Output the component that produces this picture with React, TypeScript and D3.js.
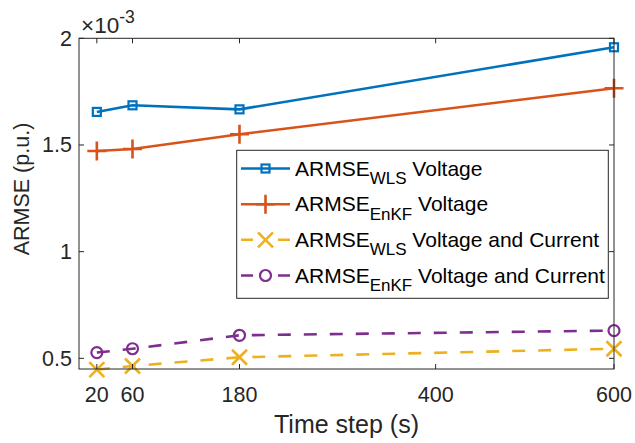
import React from 'react';
import * as d3 from 'd3';

const timeSteps = [20, 60, 180, 600];
const wlsVoltage = [1.655, 1.686, 1.667, 1.958];
const enkfVoltage = [1.472, 1.481, 1.55, 1.766];
const wlsVoltCurr = [0.447, 0.464, 0.505, 0.545];
const enkfVoltCurr = [0.527, 0.545, 0.608, 0.63];
const xTicks = [20, 60, 180, 400, 600];
const yTicks = [0.5, 1, 1.5, 2];

const seriesNames = ['WLS', 'EnKF', 'WLS', 'EnKF'];
const seriesSuffix = ['Voltage', 'Voltage', 'Voltage and Current', 'Voltage and Current'];
const seriesColors = ['#0072BD', '#D95319', '#EDB120', '#7E2F8E'];
const seriesMarkers = ['square', 'plus', 'x', 'circle'];
const seriesDashed = [false, false, true, true];
const seriesValues = [wlsVoltage, enkfVoltage, wlsVoltCurr, enkfVoltCurr];

const W = 635, H = 443;
const L = 79, R = 614, T = 38.3, B = 369;
const FONT = '"Liberation Sans", Arial, Helvetica, sans-serif';
const AX = '#262626';

function Marker({ type, x, y, color }: { type: string; x: number; y: number; color: string }) {
  const sw = 2.2;
  if (type === 'square') {
    return <rect x={x - 4} y={y - 4} width={8} height={8} fill="none" stroke={color} strokeWidth={sw} />;
  }
  if (type === 'plus') {
    const s = 9.5;
    return <path d={`M${x - s},${y}H${x + s}M${x},${y - s}V${y + s}`} stroke={color} strokeWidth={2.6} fill="none" />;
  }
  if (type === 'x') {
    const s = 7.5;
    return <path d={`M${x - s},${y - s}L${x + s},${y + s}M${x - s},${y + s}L${x + s},${y - s}`} stroke={color} strokeWidth={2.6} fill="none" />;
  }
  return <circle cx={x} cy={y} r={5.5} fill="none" stroke={color} strokeWidth={sw} />;
}

export default function App() {
  const x = d3.scaleLinear().domain([0, 600]).range([L, R]);
  const y = d3.scaleLinear().domain([0.45, 2]).range([B, T]);
  const line = d3.line<number>().x((_, i) => x(timeSteps[i])).y((d) => y(d));

  const legX = 236.7, legY = 150.3, legW = 371.6, legH = 148;
  const rowY = [168.5, 204.2, 239.8, 275.5];

  return (
    <svg width={W} height={H} style={{ position: 'absolute', left: 0, top: 0, background: '#fff' }} fontFamily={FONT}>
      <rect x={0} y={0} width={W} height={H} fill="#fff" />
      {/* data lines */}
      {seriesValues.map((vals, si) => (
        <path key={'l' + si} d={line(vals) || ''} fill="none" stroke={seriesColors[si]} strokeWidth={2.6}
          strokeDasharray={seriesDashed[si] ? '13 13' : undefined} />
      ))}
      {seriesValues.map((vals, si) => vals.map((v, i) => (
        <Marker key={'m' + si + '-' + i} type={seriesMarkers[si]} x={x(timeSteps[i])} y={y(v)} color={seriesColors[si]} />
      )))}
      {/* axes box */}
      <rect x={L} y={T} width={R - L} height={B - T} fill="none" stroke={AX} strokeWidth={1} />
      {xTicks.map((t) => (
        <g key={'xt' + t}>
          <line x1={x(t)} x2={x(t)} y1={B} y2={B - 5} stroke={AX} strokeWidth={1} />
          <line x1={x(t)} x2={x(t)} y1={T} y2={T + 5} stroke={AX} strokeWidth={1} />
          <text x={x(t)} y={402} textAnchor="middle" fontSize={21.5} fill={AX}>{t}</text>
        </g>
      ))}
      {yTicks.map((t) => (
        <g key={'yt' + t}>
          <line x1={L} x2={L + 5} y1={y(t)} y2={y(t)} stroke={AX} strokeWidth={1} />
          <line x1={R} x2={R - 5} y1={y(t)} y2={y(t)} stroke={AX} strokeWidth={1} />
          <text x={72} y={y(t) + 7.4} textAnchor="end" fontSize={21.5} fill={AX}>{String(t)}</text>
        </g>
      ))}
      {/* exponent */}
      <text x={81} y={32.5} fontSize={22.5} fill={AX}>×10<tspan dy={-10} fontSize={17.5}>-3</tspan></text>
      {/* axis labels */}
      <text x={(L + R) / 2} y={433} textAnchor="middle" fontSize={25} fill={AX}>Time step (s)</text>
      <text transform={`translate(28.5,189) rotate(-90)`} textAnchor="middle" fontSize={21.5} fill={AX}>ARMSE (p.u.)</text>
      {/* legend */}
      <rect x={legX} y={legY} width={legW} height={legH} fill="#fff" stroke={AX} strokeWidth={1} />
      {seriesNames.map((n, i) => (
        <g key={'lg' + i}>
          <line x1={241} x2={290} y1={rowY[i]} y2={rowY[i]} stroke={seriesColors[i]} strokeWidth={2.6}
            strokeDasharray={seriesDashed[i] ? '12 25' : undefined} />
          <Marker type={seriesMarkers[i]} x={265.5} y={rowY[i]} color={seriesColors[i]} />
          <text x={295} y={rowY[i] + 7.2} fontSize={21} fill="#000">
            ARMSE<tspan dy={8.3} fontSize={17}>{n}</tspan><tspan dy={-8.3}>{' ' + seriesSuffix[i]}</tspan>
          </text>
        </g>
      ))}
    </svg>
  );
}
